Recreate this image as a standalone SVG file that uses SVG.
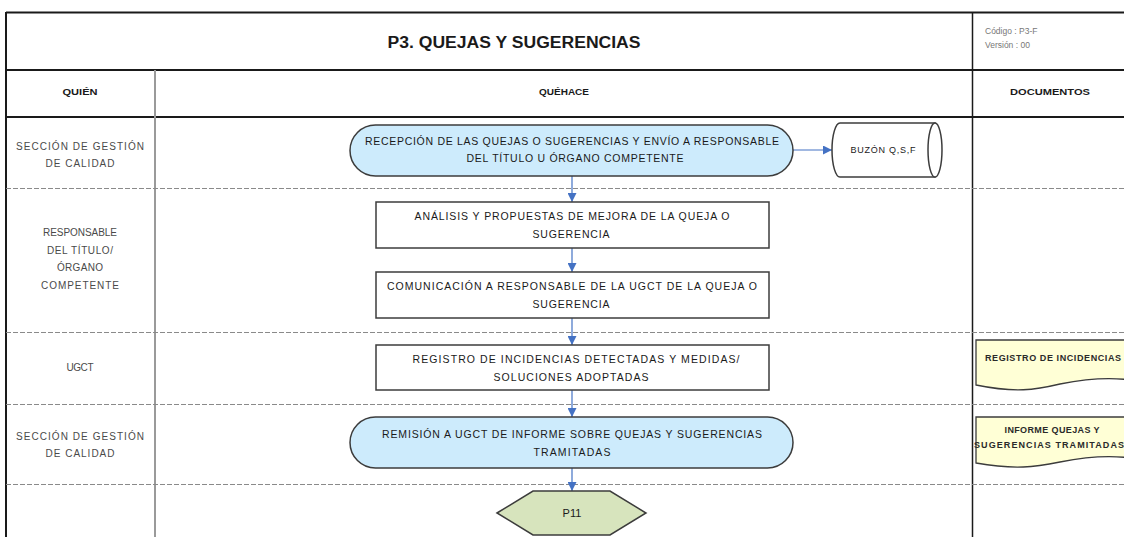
<svg xmlns="http://www.w3.org/2000/svg" width="1124" height="537" viewBox="0 0 1124 537">
<defs>
<style>
.t{font-family:"Liberation Sans",Arial,sans-serif;fill:#1a1a1a;}
.node{font-size:10.5px;text-anchor:middle;}
.lane{font-family:"Liberation Sans",Arial,sans-serif;font-size:10px;fill:#4a4a4a;text-anchor:middle;}
.hdr{font-size:9px;font-weight:bold;text-anchor:middle;}
.doc{font-size:9px;font-weight:bold;text-anchor:middle;fill:#2a2a2a;}
.frame{stroke:#1a1a1a;stroke-width:2;fill:none;}
.dash{stroke:#8a8a8a;stroke-width:1;stroke-dasharray:5 2;fill:none;}
.box{fill:#ffffff;stroke:#3c3c3c;stroke-width:1.5;}
.term{fill:#cdebfc;stroke:#3c3c3c;stroke-width:1.5;}
.docshape{fill:#ffffd6;stroke:#3c3c3c;stroke-width:1.3;}
.conn{stroke:#4472c4;stroke-width:1.2;fill:none;}
</style>
<marker id="ah" viewBox="0 0 10 10" refX="10" refY="5" markerWidth="9" markerHeight="9" markerUnits="userSpaceOnUse" orient="auto">
<path d="M0,0 L10,5 L0,10 Z" fill="#4472c4"/>
</marker>
</defs>
<rect x="0" y="0" width="1124" height="537" fill="#ffffff"/>

<g id="frame">
<line class="frame" x1="6" y1="12.5" x2="1124" y2="12.5"/>
<line class="frame" x1="6" y1="70" x2="1124" y2="70"/>
<line class="frame" x1="6" y1="117" x2="1124" y2="117"/>
<line class="frame" x1="6" y1="12" x2="6" y2="537" stroke-width="1.5"/>
<line x1="155" y1="70" x2="155" y2="537" stroke="#9a9a9a" stroke-width="2"/>
<line x1="972.5" y1="12" x2="972.5" y2="537" stroke="#1a1a1a" stroke-width="1.5"/>
<line class="dash" x1="6" y1="188.5" x2="1124" y2="188.5"/>
<line class="dash" x1="6" y1="332.5" x2="1124" y2="332.5"/>
<line class="dash" x1="6" y1="404.5" x2="1124" y2="404.5"/>
<line class="dash" x1="6" y1="484.5" x2="1124" y2="484.5"/>
</g>

<g id="header">
<text class="t" x="514" y="48" font-size="16" font-weight="bold" text-anchor="middle" textLength="253" lengthAdjust="spacingAndGlyphs">P3. QUEJAS Y SUGERENCIAS</text>
<text x="985" y="34" font-family="'Liberation Sans',Arial,sans-serif" font-size="8.5" fill="#777">Código : P3-F</text>
<text x="985" y="48" font-family="'Liberation Sans',Arial,sans-serif" font-size="8.5" fill="#777">Versión : 00</text>
<text class="t hdr" x="80" y="95" textLength="35" lengthAdjust="spacingAndGlyphs">QUIÉN</text>
<text class="t hdr" x="564" y="95" textLength="50" lengthAdjust="spacingAndGlyphs">QUÉHACE</text>
<text class="t hdr" x="1050" y="95" textLength="80" lengthAdjust="spacingAndGlyphs">DOCUMENTOS</text>
</g>

<g id="lanes">
<text class="lane" x="80" y="150" textLength="128" lengthAdjust="spacing">SECCIÓN DE GESTIÓN</text>
<text class="lane" x="80" y="167" textLength="69" lengthAdjust="spacing">DE CALIDAD</text>
<text class="lane" x="80" y="236" textLength="74" lengthAdjust="spacing">RESPONSABLE</text>
<text class="lane" x="80" y="253.5" textLength="66" lengthAdjust="spacing">DEL TÍTULO/</text>
<text class="lane" x="80" y="271" textLength="46" lengthAdjust="spacing">ÓRGANO</text>
<text class="lane" x="80" y="288.5" textLength="78" lengthAdjust="spacing">COMPETENTE</text>
<text class="lane" x="80" y="371" textLength="27" lengthAdjust="spacing">UGCT</text>
<text class="lane" x="80" y="440" textLength="128" lengthAdjust="spacing">SECCIÓN DE GESTIÓN</text>
<text class="lane" x="80" y="457" textLength="69" lengthAdjust="spacing">DE CALIDAD</text>
</g>

<g id="connectors">
<line class="conn" x1="793" y1="150" x2="832" y2="150" marker-end="url(#ah)"/>
<line class="conn" x1="572" y1="176" x2="572" y2="202" marker-end="url(#ah)"/>
<line class="conn" x1="572" y1="248" x2="572" y2="272" marker-end="url(#ah)"/>
<line class="conn" x1="572" y1="318" x2="572" y2="345" marker-end="url(#ah)"/>
<line class="conn" x1="572" y1="390" x2="572" y2="417" marker-end="url(#ah)"/>
<line class="conn" x1="572" y1="468" x2="572" y2="491" marker-end="url(#ah)"/>
</g>

<g id="n1">
<rect class="term" x="350" y="125" width="443" height="51" rx="25.5" ry="25.5"/>
<text class="t node" x="572" y="144.5" textLength="414" lengthAdjust="spacing">RECEPCIÓN DE LAS QUEJAS O SUGERENCIAS Y ENVÍO A RESPONSABLE</text>
<text class="t node" x="575" y="162" textLength="217" lengthAdjust="spacing">DEL TÍTULO U ÓRGANO COMPETENTE</text>
</g>

<g id="buzon">
<path class="box" d="M840,123 H935 V177 H840 A8,27 0 0 1 840,123 Z"/>
<ellipse cx="935" cy="150" rx="7" ry="27" class="box"/>
<text class="t" x="883" y="153" font-size="9" text-anchor="middle" textLength="65" lengthAdjust="spacing">BUZÓN Q,S,F</text>
</g>

<g id="n2">
<rect class="box" x="376" y="202" width="393" height="46"/>
<text class="t node" x="572" y="219.5" textLength="315" lengthAdjust="spacing">ANÁLISIS Y PROPUESTAS DE MEJORA DE LA QUEJA O</text>
<text class="t node" x="571" y="237.5" textLength="77" lengthAdjust="spacing">SUGERENCIA</text>
</g>

<g id="n3">
<rect class="box" x="376" y="272" width="393" height="46"/>
<text class="t node" x="572" y="289.5" textLength="370" lengthAdjust="spacing">COMUNICACIÓN A RESPONSABLE DE LA UGCT DE LA QUEJA O</text>
<text class="t node" x="571" y="307.5" textLength="77" lengthAdjust="spacing">SUGERENCIA</text>
</g>

<g id="n4">
<rect class="box" x="376" y="345" width="393" height="45"/>
<text class="t node" x="576" y="362.5" textLength="327" lengthAdjust="spacing">REGISTRO DE INCIDENCIAS DETECTADAS Y MEDIDAS/</text>
<text class="t node" x="571" y="380.5" textLength="155" lengthAdjust="spacing">SOLUCIONES ADOPTADAS</text>
</g>

<g id="n5">
<rect class="term" x="350" y="417" width="443" height="51" rx="25.5" ry="25.5"/>
<text class="t node" x="572" y="437.5" textLength="380" lengthAdjust="spacing">REMISIÓN A UGCT DE INFORME SOBRE QUEJAS Y SUGERENCIAS</text>
<text class="t node" x="572" y="455.5" textLength="77" lengthAdjust="spacing">TRAMITADAS</text>
</g>

<g id="p11">
<polygon points="497,513 533,491 610,491 646,513 610,535 533,535" fill="#d7e4bd" stroke="#3c3c3c" stroke-width="1.5"/>
<text class="t" x="572" y="517" font-size="11" text-anchor="middle">P11</text>
</g>

<g id="doc1">
<path class="docshape" d="M976,340 H1130 V380 C1110,377 1090,378 1060,384 C1035,390 1015,393 976,385 Z"/>
<text class="t doc" x="1053" y="361" textLength="136" lengthAdjust="spacing">REGISTRO DE INCIDENCIAS</text>
</g>

<g id="doc2">
<path class="docshape" d="M976,417 H1130 V458 C1110,455 1090,456 1060,462 C1035,467 1015,470 976,463 Z"/>
<text class="t doc" x="1052" y="433" textLength="95" lengthAdjust="spacing">INFORME QUEJAS Y</text>
<text class="t doc" x="1049" y="448" textLength="150" lengthAdjust="spacing">SUGERENCIAS TRAMITADAS</text>
</g>
</svg>
